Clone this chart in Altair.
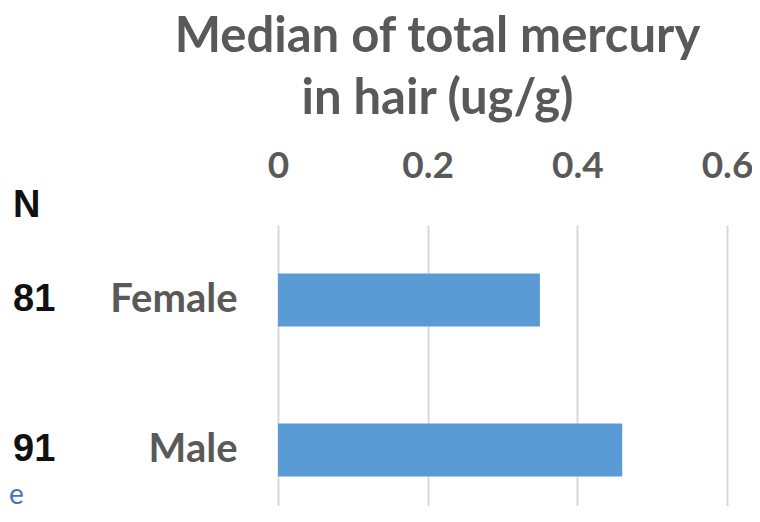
import altair as alt
import pandas as pd

categories = ["Female", "Male"]
medians = [0.35, 0.46]
n_values = ["81", "91"]
x_ticks = [0, 0.2, 0.4, 0.6]

df = pd.DataFrame({"sex": categories, "median": medians, "n": n_values})

FONT = "Lato"
GRAY = "#595959"

yscale = alt.Scale(domain=categories, range=[0, 300], paddingInner=0.647, paddingOuter=0.3235)

bars = alt.Chart(df).mark_bar(color="#5B9BD5").encode(
    x=alt.X("median:Q",
            scale=alt.Scale(domain=[0, 0.6], nice=False),
            axis=alt.Axis(orient="top", values=x_ticks, format="~g", title=None,
                          domain=False, ticks=False, labelPadding=40, labelFlush=False,
                          labelFontSize=37, labelFontWeight="bold", labelColor=GRAY,
                          labelFont=FONT, gridColor="#D9D9D9", gridWidth=2)),
    y=alt.Y("sex:N", scale=yscale, sort=categories,
            axis=alt.Axis(title=None, domain=False, ticks=False, grid=False,
                          labelPadding=41, labelFontSize=40, labelFontWeight="bold",
                          labelColor=GRAY, labelFont=FONT)),
)

ntext = alt.Chart(df).mark_text(align="left", baseline="middle", font="Liberation Sans",
                                fontWeight="bold", fontSize=38, color="#111111").encode(
    y=alt.Y("sex:N", scale=yscale, sort=categories),
    x=alt.value(-265),
    text="n:N",
)

nhead = alt.Chart(pd.DataFrame({"t": ["N"]})).mark_text(
    align="left", baseline="middle", font="Liberation Sans", fontWeight="bold",
    fontSize=38, color="#111111").encode(
    x=alt.value(-265), y=alt.value(-19), text="t:N")

eblue = alt.Chart(pd.DataFrame({"t": ["e"]})).mark_text(
    align="left", baseline="alphabetic", font=FONT, fontSize=28, color="#4472C4").encode(
    x=alt.value(-269), y=alt.value(279), text="t:N")

chart = alt.layer(bars, ntext, nhead, eblue).properties(
    width=449, height=281,
    autosize=alt.AutoSizeParams(type="none"),
    padding={"left": 270, "top": 217, "right": 25, "bottom": 0},
    title=alt.TitleParams(["Median of total mercury", "in hair (ug/g)"],
                          font=FONT, fontSize=49, fontWeight="bold", color=GRAY,
                          anchor="middle", dx=-65, offset=23, lineHeight=62),
).configure_view(stroke=None)

chart.save("out.html", embed_options={"renderer": "svg", "actions": False})
